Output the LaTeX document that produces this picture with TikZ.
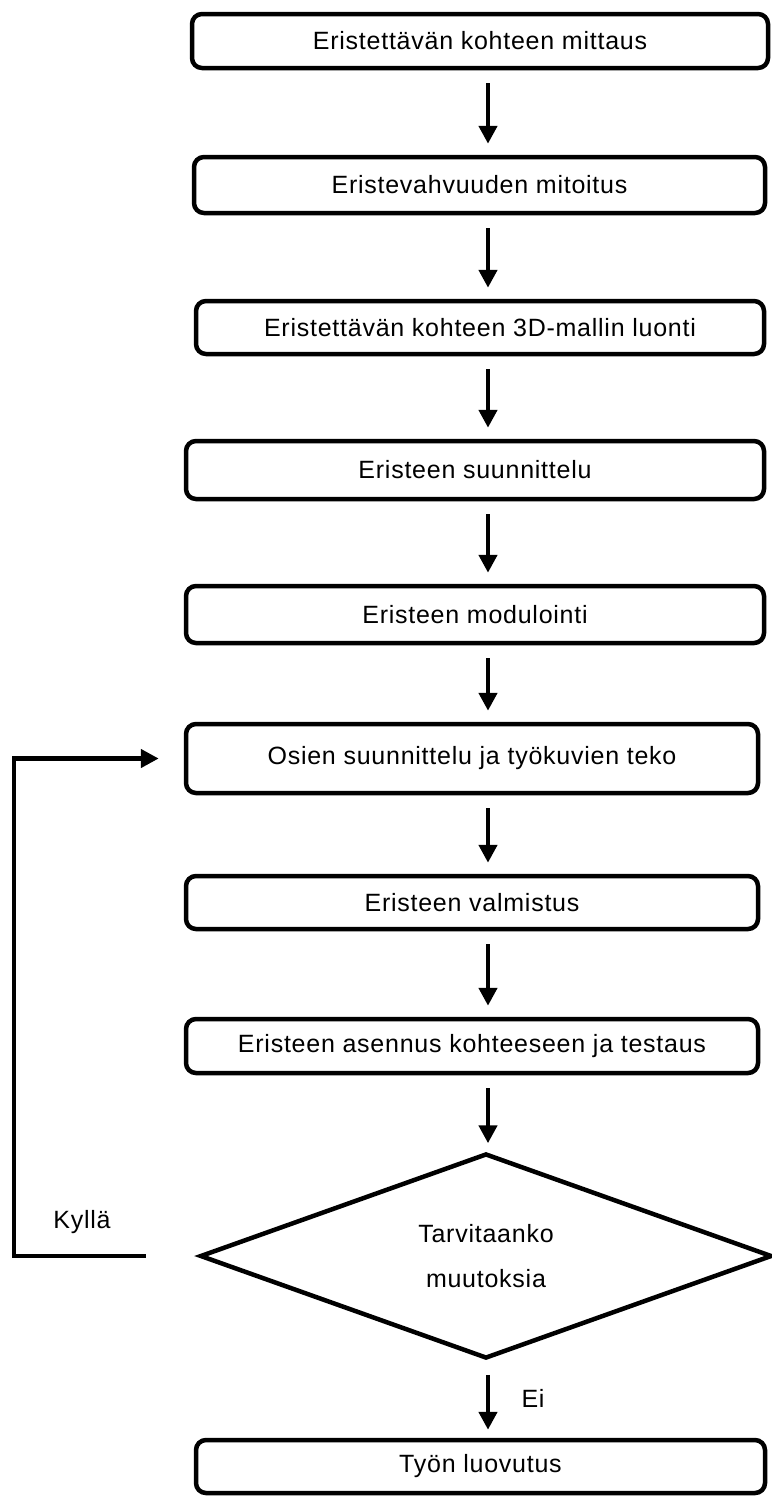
\documentclass[tikz,border=0pt]{standalone}
\usepackage{fontspec}
\setmainfont{Liberation Sans}[LetterSpace=3]
\usetikzlibrary{arrows.meta,shapes.geometric}

\tikzset{
  stage/.style={draw, line width=2.25pt, rounded corners=5pt, inner sep=0pt,
    font=\fontsize{12.5}{14}\selectfont},
  choice/.style={draw, diamond, line width=2.25pt, inner sep=0pt, align=center,
    font=\fontsize{12.5}{22.5}\selectfont},
  tag/.style={font=\fontsize{12.5}{14}\selectfont},
  flow/.style={line width=2.25pt, -{Triangle[width=9pt,length=9pt]}}
}

\begin{document}
\begin{tikzpicture}[x=0.5pt, y=-0.5pt]
  \useasboundingbox (0,0) rectangle (771,1499);
  \coordinate (axis) at (488,0);
  \coordinate (back) at (14,0);

  % Work phases
  \node[stage, minimum width=288pt, minimum height=27pt] (mit) at (480,41) {Eristettävän kohteen mittaus};
  \node[stage, minimum width=285.5pt, minimum height=28pt] (vah) at (479.5,185) {Eristevahvuuden mitoitus};
  \node[stage, minimum width=284pt, minimum height=26.5pt] (mal) at (480,327.5) {Eristettävän kohteen 3D-mallin luonti};
  \node[stage, minimum width=289pt, minimum height=29pt] (suu) at (475,470) {Eristeen suunnittelu};
  \node[stage, minimum width=289pt, minimum height=28.5pt] (mod) at (475,614.5) {Eristeen modulointi};
  \node[stage, minimum width=286pt, minimum height=34.5pt] (osa) at (472,758.5) {Osien suunnittelu ja työkuvien teko};
  \node[stage, minimum width=286pt, minimum height=26.5pt] (val) at (472,902.5) {Eristeen valmistus};
  \node[stage, minimum width=286pt, minimum height=27pt] (ase) at (472,1046) {Eristeen asennus kohteeseen ja testaus};
  \node[choice, minimum width=286pt, minimum height=102.5pt] (muu) at (486,1256) {Tarvitaanko\\muutoksia};
  \node[stage, minimum width=284.5pt, minimum height=26.5pt] (luo) at (480.5,1466.5) {Työn luovutus};

  % Arrows down the chain
  \draw[flow, shorten <=6.5pt, shorten >=5.5pt] (mit.south -| axis) -- (vah.north -| axis);
  \draw[flow, shorten <=6.5pt, shorten >=5.5pt] (vah.south -| axis) -- (mal.north -| axis);
  \draw[flow, shorten <=6.5pt, shorten >=5.5pt] (mal.south -| axis) -- (suu.north -| axis);
  \draw[flow, shorten <=6.5pt, shorten >=5.5pt] (suu.south -| axis) -- (mod.north -| axis);
  \draw[flow, shorten <=6.5pt, shorten >=5.5pt] (mod.south -| axis) -- (osa.north -| axis);
  \draw[flow, shorten <=6.5pt, shorten >=5.5pt] (osa.south -| axis) -- (val.north -| axis);
  \draw[flow, shorten <=6.5pt, shorten >=5.5pt] (val.south -| axis) -- (ase.north -| axis);
  \draw[flow, shorten <=6.5pt, shorten >=4pt] (ase.south -| axis) -- (muu.north -| axis);
  \draw[flow, shorten <=7pt, shorten >=4pt] (muu.south -| axis) -- (luo.north -| axis);

  % Loop back when changes are needed
  \draw[flow, shorten <=26pt, shorten >=12.5pt] (muu.west) -- (muu.west -| back) |- (osa.west);

  \node[tag] (kyl) at (82,1222) {Kyllä};
  \node[tag] (ei) at (533,1398) {Ei};
\end{tikzpicture}
\end{document}
